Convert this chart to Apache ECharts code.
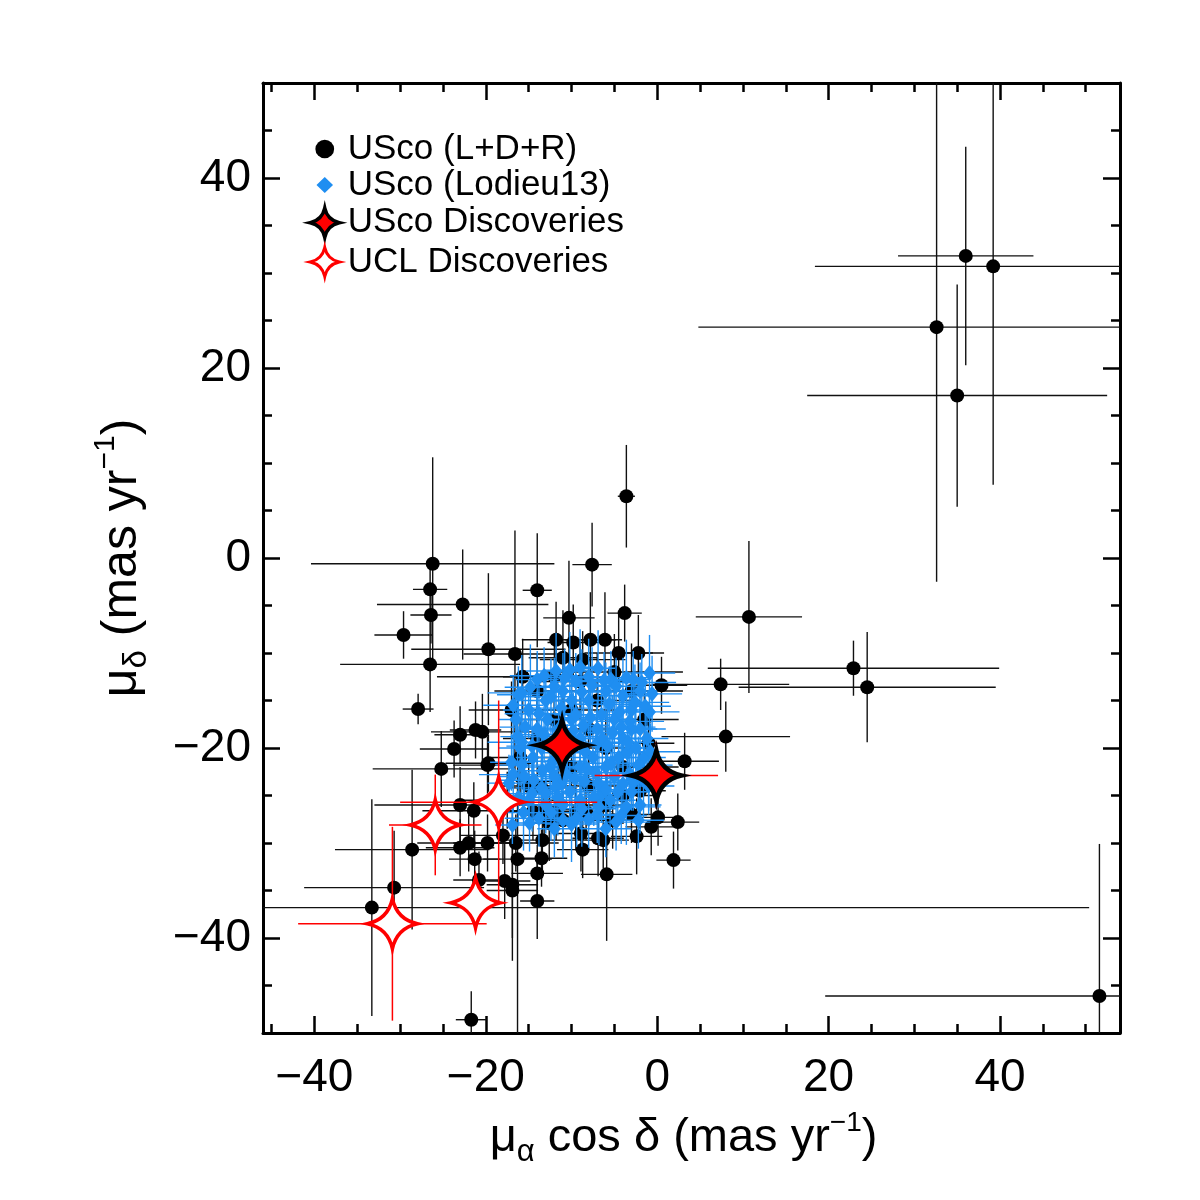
<!DOCTYPE html>
<html>
<head>
<meta charset="utf-8">
<script src="https://cdn.jsdelivr.net/npm/echarts@6/dist/echarts.min.js"></script>
<style>
  html, body { margin: 0; padding: 0; background: #fff; }
  #chart { width: 1200px; height: 1200px; }
</style>
</head>
<body>
<div id="chart"></div>
<script>
// proper motions, rows are [pmRA, pmDec, errRA, errDec] in mas/yr
var uscoLDR = [
  [36.0, 31.8, 7.9, 11.5], [39.2, 30.7, 20.8, 23], [32.6, 24.3, 27.8, 26.8], [35.0, 17.1, 17.5, 11.7],
  [51.6, -46.1, 32, 16], [-33.3, -36.8, 83.7, 11.4],
  [10.7, -6.2, 6.2, 8], [22.9, -11.6, 17, 2.9], [24.5, -13.6, 15, 5.8], [7.4, -13.3, 8, 2.7],
  [8.0, -18.8, 7.5, 3.7], [3.2, -21.4, 4, 3], [2.4, -27.8, 2.5, 3], [1.9, -31.8, 2, 3],
  [-3.6, 6.5, 1, 5.4], [-7.6, -0.7, 2.3, 4.4], [-14.0, -3.4, 1.7, 6],
  [-26.2, -0.6, 14.2, 11.2], [-26.5, -3.3, 2, 3], [-26.4, -6.0, 2.4, 3], [-22.7, -4.9, 10, 5.8],
  [-29.6, -8.1, 3.4, 2.5], [-26.5, -11.2, 10.5, 5], [-27.9, -15.9, 1.8, 1.6],
  [-19.7, -9.6, 9, 8], [-16.6, -10.1, 6, 13], [-3.8, -5.8, 2, 3], [-10.3, -6.3, 3, 6],
  [-11.8, -8.6, 4, 4], [-9.8, -8.9, 3, 4], [-7.8, -8.6, 3, 5], [-6.1, -8.6, 2, 5],
  [-2.2, -10.0, 3, 4], [0.5, -13.4, 3, 3], [-8.7, -10.7, 5, 3], [-15.7, -12.5, 10, 4],
  [-20.4, -18.3, 6, 4], [-19.7, -21.6, 5, 3], [-25.2, -22.2, 8, 4], [-23.7, -20.1, 4, 3],
  [-23.0, -18.6, 3, 3], [-21.2, -18.1, 3, 3], [-23.0, -26.0, 10, 4], [-21.4, -26.6, 6, 3],
  [-28.6, -30.7, 9, 8.4], [-30.7, -34.7, 10.5, 6], [-23.0, -30.5, 4, 3], [-22.0, -30.0, 6, 3],
  [-21.3, -31.7, 3, 3], [-19.8, -30.0, 4, 3], [-20.8, -33.9, 3, 3], [-17.8, -34.0, 3, 4],
  [-16.9, -34.4, 3, 8], [-16.9, -35.0, 3, 5], [-16.3, -31.7, 4, 19], [-16.5, -30.0, 5, 3],
  [-14.0, -33.2, 3, 3], [-14.0, -36.1, 2, 4], [-18.0, -29.2, 5, 3], [-21.7, -48.6, 1.8, 3],
  [-19.8, -21.8, 4, 3], [-13.5, -24.2, 4, 3], [-13.4, -29.7, 4, 4], [-8.9, -29.0, 3, 4],
  [-6.9, -29.5, 3, 4], [-2.4, -29.3, 3, 4], [-0.7, -28.3, 3, 3], [0.1, -27.3, 2, 3],
  [-11.0, -27.6, 3, 3], [-8.7, -30.7, 3, 3], [-8.3, -26.7, 3, 3], [-5.2, -27.6, 3, 3],
  [-9.5, -26.8, 3, 4], [-12.6, -27.9, 3, 4], [-11.8, -26.7, 3, 3], [-13.2, -26.5, 3, 3],
  [-14.5, -26.7, 3, 3], [-6.3, -29.7, 3, 3], [-5.9, -33.3, 3, 7], [-13.5, -31.6, 3, 3],
  [-12.0, -12.5, 6, 4], [-14.0, -14.0, 5, 4], [-5.0, -12.0, 8, 4], [-3.0, -14.0, 6, 5],
  [-1.5, -17.0, 4, 3], [-1.0, -19.5, 3, 4], [-0.5, -22.0, 3, 3], [-2.0, -24.5, 3, 4],
  [-4.0, -22.0, 4, 3], [-6.0, -20.0, 4, 4], [-8.0, -18.0, 4, 4], [-10.0, -16.0, 5, 4],
  [-12.0, -17.0, 5, 5], [-14.0, -19.0, 4, 4], [-16.0, -21.0, 4, 4], [-15.0, -24.0, 4, 3],
  [-10.0, -22.0, 4, 4], [-8.0, -24.0, 4, 4], [-6.0, -26.0, 4, 3], [-4.0, -25.0, 4, 3],
  [-7.0, -15.0, 5, 5], [-9.0, -13.0, 5, 4], [-11.0, -10.5, 4, 5], [-4.5, -10.0, 4, 4],
  [-17.0, -16.0, 5, 3], [-17.5, -25.5, 6, 3], [-3.0, -27.0, 3, 3], [-11.5, -23.5, 5, 3]
];

var uscoLodieu = [
  [-16.2, -14.4, 2.5, 3], [-10.2, -11.8, 3, 4], [-6.9, -11.6, 2, 4], [-5.4, -12.8, 2.5, 3],
  [-2.8, -12.8, 2, 3], [-0.9, -12.1, 3, 4], [-0.9, -16.2, 3.5, 2], [-16.3, -18.8, 2, 3],
  [-17.3, -23.7, 2.5, 3], [-13.5, -24.2, 3, 2], [-4.2, -27.1, 3, 3], [-3.0, -24.6, 2, 2],
  [-14.9, -27.9, 2.5, 3], [-16.9, -28.1, 2, 2], [-6.5, -24.9, 2.5, 3], [-11.2, -23.7, 3, 3],
  [-9.5, -13.0, 3, 3], [-3.2, -22.7, 2, 3], [-11.8, -24.1, 2.5, 4], [-13.4, -24.4, 2, 3],
  [-15.0, -16.0, 3, 3], [-14.0, -18.0, 2.5, 4], [-13.0, -15.0, 3, 3], [-12.0, -20.0, 2, 3],
  [-12.5, -22.0, 3, 3], [-11.0, -14.0, 2, 4], [-10.0, -17.0, 3, 3], [-9.0, -19.0, 2.5, 3],
  [-8.0, -15.0, 3, 4], [-7.0, -18.0, 2, 3], [-6.0, -14.0, 3, 3], [-5.0, -17.0, 2.5, 3],
  [-4.0, -19.0, 3, 4], [-3.0, -16.0, 2, 3], [-2.0, -18.0, 3, 3], [-1.5, -21.0, 2.5, 3],
  [-2.5, -20.0, 2, 4], [-4.5, -21.0, 3, 3], [-6.0, -22.0, 2, 3], [-7.5, -21.0, 3, 3],
  [-9.0, -22.0, 2.5, 4], [-10.5, -20.5, 3, 3], [-14.5, -21.0, 2, 3], [-15.5, -23.0, 3, 3],
  [-16.0, -20.0, 2.5, 4], [-13.0, -26.0, 3, 3], [-11.0, -26.0, 2, 4], [-9.0, -25.5, 3, 3],
  [-7.0, -27.0, 2.5, 3], [-5.0, -23.0, 3, 3], [-8.0, -12.5, 2, 4], [-12.0, -13.5, 3, 3],
  [-14.0, -12.8, 2.5, 3], [-4.0, -14.5, 3, 4], [-2.0, -14.0, 2, 3], [-1.0, -24.0, 3, 3],
  [-2.0, -26.0, 2.5, 3], [-10.0, -28.0, 3, 4], [-12.0, -28.5, 2, 3], [-8.5, -23.5, 3, 3],
  [-6.5, -16.5, 2.5, 3], [-10.0, -15.0, 3, 3], [-11.5, -18.0, 2, 4], [-13.5, -20.0, 3, 3],
  [-15.0, -25.5, 2.5, 3], [-5.5, -25.5, 3, 3], [-3.5, -20.5, 2, 3], [-7.0, -19.5, 3, 4],
  [-9.5, -16.5, 2.5, 3], [-12.8, -17.0, 3, 3], [-16.5, -17.0, 2, 3], [-17.0, -21.5, 2.5, 3],
  [-6.0, -28.5, 3, 3], [-8.0, -27.5, 2, 3], [-3.0, -18.0, 3, 4], [-1.2, -19.0, 2.5, 3],
  [-4.8, -13.5, 3, 3], [-9.0, -11.5, 2, 4],
  [-16.8, -15.5, 3.5, 3], [-15.8, -14.2, 4, 4], [-14.8, -13.6, 3, 4.5], [-13.2, -12.4, 4, 3],
  [-11.8, -11.9, 3.5, 4], [-10.8, -12.6, 4, 3], [-7.6, -13.4, 3, 4], [-6.2, -12.9, 4.5, 3],
  [-3.6, -12.6, 3, 4], [-1.8, -13.1, 4, 3], [-0.6, -14.3, 3.5, 4], [-1.4, -15.6, 3, 3],
  [-2.6, -15.2, 4, 4], [-4.4, -16.2, 3, 3.5], [-5.6, -15.4, 4, 4], [-7.8, -16.8, 3, 3],
  [-8.8, -14.1, 4, 4.5], [-11.2, -15.8, 3.5, 3], [-12.4, -14.6, 3, 4], [-13.8, -16.4, 4, 3],
  [-15.4, -17.8, 3, 4], [-15.8, -19.4, 4, 3], [-14.6, -19.8, 3, 4], [-13.2, -18.6, 3.5, 3],
  [-12.2, -21.4, 4, 4], [-11.0, -19.6, 3, 3.5], [-9.8, -18.2, 4, 4], [-8.4, -20.4, 3, 3],
  [-7.2, -22.6, 3.5, 4], [-6.4, -19.0, 4, 3], [-5.2, -18.4, 3, 4], [-4.2, -17.8, 4, 3],
  [-3.4, -19.4, 3, 4.5], [-2.2, -21.8, 4, 3], [-1.0, -22.6, 3, 4], [-0.8, -20.4, 3.5, 3],
  [-1.6, -23.4, 3, 4], [-2.8, -23.6, 4, 3], [-4.0, -23.8, 3, 4], [-5.4, -21.6, 4, 3],
  [-6.8, -23.8, 3, 4], [-8.2, -22.2, 3.5, 3], [-9.6, -23.2, 4, 4], [-10.6, -22.8, 3, 3],
  [-12.0, -23.0, 4, 4], [-13.4, -22.4, 3, 3], [-14.4, -23.4, 4, 4], [-15.8, -21.8, 3, 3],
  [-16.8, -22.8, 4, 4], [-16.2, -25.2, 3, 3], [-14.6, -24.8, 4, 4], [-13.0, -24.8, 3, 3.5],
  [-11.6, -25.2, 4, 4], [-10.2, -24.6, 3, 3], [-8.8, -26.4, 4, 4], [-7.4, -25.2, 3, 3],
  [-6.0, -24.4, 4, 4], [-4.6, -24.6, 3, 3], [-3.6, -26.2, 4, 4], [-2.2, -27.6, 3, 3],
  [-4.8, -27.8, 4, 3], [-6.8, -26.2, 3, 4], [-9.4, -27.4, 4, 3], [-11.0, -27.6, 3, 4],
  [-13.8, -27.4, 4, 3], [-15.6, -26.8, 3, 4], [-12.4, -26.8, 4, 3], [-5.8, -19.8, 3, 4],
  [-3.2, -17.2, 4, 3], [-8.6, -17.6, 3, 4], [-10.8, -18.8, 4, 3]
];

var uscoDisc = [
  [-11.1, -19.7, 1.5, 1.5], [-0.1, -22.9, 7.2, 3.5]
];

var uclDisc = [
  [-25.9, -28.1, 5.4, 5.3], [-18.5, -25.7, 11.5, 10.7], [-21.2, -36.3, 2, 2], [-30.9, -38.5, 11, 10.2]
];

var xMajor = [-40, -20, 0, 20, 40];
var xMinor = [-45, -35, -30, -25, -15, -10, -5, 5, 10, 15, 25, 30, 35, 45, 50];
var yMajor = [-40, -20, 0, 20, 40];
var yMinor = [-45, -35, -30, -25, -15, -10, -5, 5, 10, 15, 25, 30, 35, 45];

var FONT = "'Liberation Sans', Helvetica, Arial, sans-serif";
var STAR = 'path://M0,-50 Q9,-9 50,0 Q9,9 0,50 Q-9,9 -50,0 Q-9,-9 0,-50 Z';
// legend icons get padded with bare moves so they shrink inside the 36px box
var STAR_ICON = 'path://M-62,-62 M62,62 M0,-50 Q9,-9 50,0 Q9,9 0,50 Q-9,9 -50,0 Q-9,-9 0,-50 Z';
var DOT_ICON = 'path://M-50,-50 M50,50 M26,0 A26,26 0 1 1 -26,0 A26,26 0 1 1 26,0 Z';
var DIAMOND_ICON = 'path://M-50,-50 M50,50 M0,-22 L23,0 L0,22 L-23,0 Z';

var minus = function (v) { return v < 0 ? '\u2212' + (-v) : '' + v; };

// error bars drawn as crosses, clipped to the plot box
var errorBars = function (color, width) {
  return function (params, api) {
    var x = api.value(0), y = api.value(1), ex = api.value(2), ey = api.value(3);
    var cs = params.coordSys;
    var clampX = function (v) { return Math.max(cs.x, Math.min(cs.x + cs.width, v)); };
    var clampY = function (v) { return Math.max(cs.y, Math.min(cs.y + cs.height, v)); };
    var l = api.coord([x - ex, y]), r = api.coord([x + ex, y]);
    var t = api.coord([x, y + ey]), b = api.coord([x, y - ey]);
    var style = { stroke: color, lineWidth: width };
    return {
      type: 'group',
      children: [
        { type: 'line', shape: { x1: clampX(l[0]), y1: l[1], x2: clampX(r[0]), y2: r[1] }, style: style },
        { type: 'line', shape: { x1: t[0], y1: clampY(t[1]), x2: b[0], y2: clampY(b[1]) }, style: style }
      ]
    };
  };
};

var xAxisBase = function (pos, ticks, len, showLine, showLabel) {
  return {
    type: 'value', position: pos, min: -46, max: 54,
    axisLine: { show: showLine, onZero: false, lineStyle: { color: '#000', width: 3 } },
    axisTick: { show: true, inside: true, length: len, customValues: ticks, lineStyle: { color: '#000', width: 2.5 } },
    axisLabel: { show: showLabel, customValues: ticks, formatter: minus, color: '#000', fontSize: 46, fontFamily: FONT, margin: 22 },
    splitLine: { show: false }
  };
};
var yAxisBase = function (pos, ticks, len, showLine, showLabel) {
  return {
    type: 'value', position: pos, min: -50, max: 50,
    axisLine: { show: showLine, onZero: false, lineStyle: { color: '#000', width: 3 } },
    axisTick: { show: true, inside: true, length: len, customValues: ticks, lineStyle: { color: '#000', width: 2.5 } },
    axisLabel: { show: showLabel, customValues: ticks, formatter: minus, color: '#000', fontSize: 46, fontFamily: FONT, margin: 12 },
    splitLine: { show: false }
  };
};

var titleRich = function (size) {
  return {
    t: { fontSize: size, fontFamily: FONT, color: '#000', lineHeight: size + 12 },
    s: { fontSize: Math.round(size * 0.66), fontFamily: FONT, color: '#000', lineHeight: Math.round(size * 0.66), verticalAlign: 'bottom' },
    p: { fontSize: Math.round(size * 0.6), fontFamily: FONT, color: '#000', lineHeight: Math.round(size * 0.6), verticalAlign: 'top' }
  };
};

var xBottom = xAxisBase('bottom', xMajor, 17, true, true);
xBottom.name = '{t|\u03bc}{s|\u03b1}{t| cos \u03b4 (mas yr}{p|\u22121}{t|)}';
xBottom.nameLocation = 'middle';
xBottom.nameGap = 76;
xBottom.nameTextStyle = { rich: titleRich(47), padding: [0, 16, 0, 0] };

var yLeft = yAxisBase('left', yMajor, 17, true, true);
yLeft.name = '{t|\u03bc}{s|\u03b4}{t| (mas yr}{p|\u22121}{t|)}';
yLeft.nameLocation = 'middle';
yLeft.nameGap = 110;
yLeft.nameTextStyle = { rich: titleRich(50) };

var option = {
  animation: false,
  backgroundColor: '#fff',
  grid: { left: 263, right: 80, top: 83, bottom: 167, containLabel: false },
  xAxis: [
    xBottom,
    xAxisBase('bottom', xMinor, 9, false, false),
    xAxisBase('top', xMajor, 17, true, false),
    xAxisBase('top', xMinor, 9, false, false)
  ],
  yAxis: [
    yLeft,
    yAxisBase('left', yMinor, 9, false, false),
    yAxisBase('right', yMajor, 17, true, false),
    yAxisBase('right', yMinor, 9, false, false)
  ],
  legend: {
    left: 300, top: 126, orient: 'vertical',
    itemWidth: 36, itemHeight: 36, itemGap: 0,
    selectedMode: false,
    textStyle: { fontSize: 35, lineHeight: 36, fontFamily: FONT, color: '#000' },
    data: [
      { name: 'USco (L+D+R)', icon: DOT_ICON },
      { name: 'USco (Lodieu13)', icon: DIAMOND_ICON },
      { name: 'USco Discoveries', icon: STAR_ICON, itemStyle: { borderWidth: 3.5 } },
      { name: 'UCL Discoveries', icon: STAR_ICON, itemStyle: { borderWidth: 3 } }
    ]
  },
  series: [
    {
      name: 'ldr-err', type: 'custom', data: uscoLDR, encode: { x: 0, y: 1 },
      renderItem: errorBars('#111', 1.4), z: 2
    },
    {
      name: 'USco (L+D+R)', type: 'scatter', data: uscoLDR, encode: { x: 0, y: 1 },
      symbol: 'circle', symbolSize: 14, itemStyle: { color: '#000', opacity: 1 }, z: 3
    },
    {
      name: 'lodieu-err', type: 'custom', data: uscoLodieu, encode: { x: 0, y: 1 },
      renderItem: errorBars('#1f8ef1', 1.4), z: 4
    },
    {
      name: 'USco (Lodieu13)', type: 'scatter', data: uscoLodieu, encode: { x: 0, y: 1 },
      symbol: 'diamond', symbolSize: [13, 16], itemStyle: { color: '#1f8ef1', opacity: 1 }, z: 5
    },
    {
      name: 'disc-err', type: 'custom', data: uscoDisc.concat(uclDisc), encode: { x: 0, y: 1 },
      renderItem: errorBars('#ff0000', 1.5), z: 6
    },
    {
      name: 'USco Discoveries', type: 'scatter', data: uscoDisc, encode: { x: 0, y: 1 },
      symbol: STAR, symbolSize: 50,
      itemStyle: { color: '#ff0000', borderColor: '#000', borderWidth: 4.5, opacity: 1 }, z: 7
    },
    {
      name: 'UCL Discoveries', type: 'scatter', data: uclDisc, encode: { x: 0, y: 1 },
      symbol: STAR, symbolSize: 50,
      itemStyle: { color: '#fff', borderColor: '#ff0000', borderWidth: 3.5, opacity: 1 }, z: 7
    }
  ]
};

var chart = echarts.init(document.getElementById('chart'));
chart.setOption(option);
</script>
</body>
</html>
